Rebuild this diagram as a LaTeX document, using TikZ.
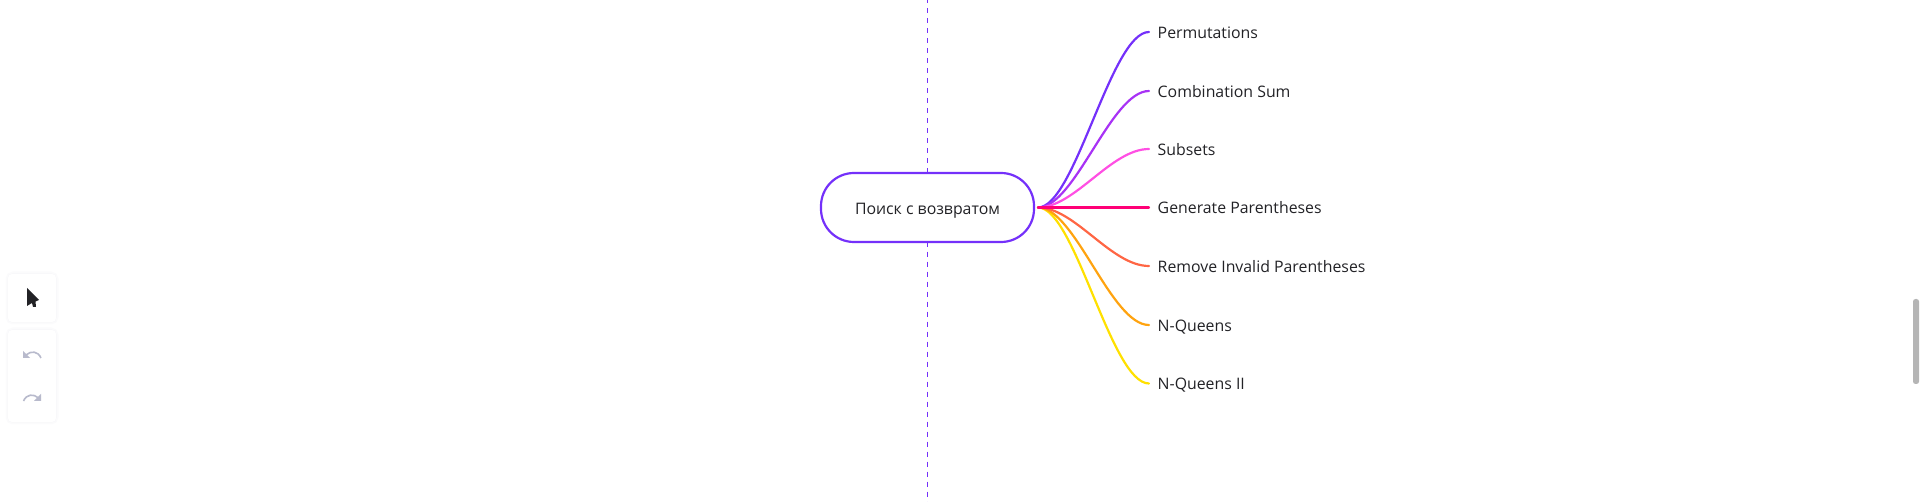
\documentclass[tikz,border=0pt]{standalone}
\usepackage{fontspec}
\setmainfont{Open Sans}
\usetikzlibrary{positioning}
\definecolor{rootline}{HTML}{7430FA}
\definecolor{branchA}{HTML}{7430FA}
\definecolor{branchB}{HTML}{A832F5}
\definecolor{branchC}{HTML}{FF4FE3}
\definecolor{branchD}{HTML}{FF0077}
\definecolor{branchE}{HTML}{FF6644}
\definecolor{branchF}{HTML}{FFA30F}
\definecolor{branchG}{HTML}{FFE000}
\definecolor{inktext}{HTML}{222226}
\definecolor{toolgrey}{HTML}{B8BACC}
\definecolor{shadowouter}{HTML}{FBFBFC}
\definecolor{shadowinner}{HTML}{F8F8FA}
\tikzstyle{rootbox}=[draw=rootline, fill=white, line width=2.2pt, rounded corners=33pt, minimum width=213pt, minimum height=69pt, inner sep=0pt, text height=14pt, text depth=0pt, text=inktext, font=\fontsize{15.85}{18}\selectfont]
\tikzstyle{leaf}=[anchor=base west, inner sep=0pt, text=inktext, font=\fontsize{15.85}{18}\selectfont]
\tikzstyle{branch}=[line width=2.2pt, line cap=round]
\tikzstyle{guide}=[draw=rootline, line width=1.1pt, dash pattern=on 5pt off 5pt, dash phase=1.5pt]
\tikzstyle{panel}=[fill=white, rounded corners=4pt]
\tikzstyle{panelouter}=[draw=shadowouter, line width=5pt, rounded corners=5pt]
\tikzstyle{panelinner}=[draw=shadowinner, line width=1.5pt, rounded corners=5pt]
\begin{document}
\begin{tikzpicture}[x=1pt, y=-1pt]
	\useasboundingbox (0,0) rectangle (1920,502);

	% Guide line behind the root
	\coordinate (T) at (927.5,0);
	\coordinate (U) at (927.5,502);
	\node[rootbox] (R) at (927.5,207.5) {Поиск с возвратом};
	\draw[guide] (T) -- (R.north -| T);
	\draw[guide] (R.south -| T) -- (U);

	% Start of all branches, just right of the root
	\coordinate (O) at (1038,207.5);

	% Branches with their labels
	\foreach \i/\y/\c/\t in {A/32/branchA/Permutations,
		B/91/branchB/Combination Sum,
		C/149/branchC/Subsets,
		G/383.5/branchG/N-Queens II,
		F/325/branchF/N-Queens,
		E/266/branchE/Remove Invalid Parentheses,
		D/207.5/branchD/Generate Parentheses} {
		\coordinate (E\i) at (1149,\y);
		\node[leaf] (L\i) at (1157.5,\y+6.5) {\t};
		\draw[branch, draw=\c] (O) .. controls (1075,207.5) and (1111,\y) .. (E\i);
	}

	% Tool panels on the left
	\draw[panelouter] (8,274) rectangle (56,322);
	\draw[panelouter] (8,330) rectangle (56,422);
	\draw[panelinner] (8,274) rectangle (56,322);
	\draw[panelinner] (8,330) rectangle (56,422);
	\fill[panel] (8,274) rectangle (56,322);
	\fill[panel] (8,330) rectangle (56,422);

	% Pointer
	\fill[inktext] (27,288) -- (39,300) -- (35.5,301.5) -- (36,307) -- (33,307) -- (32,303) -- (27,306) -- cycle;

	% Undo and redo
	\draw[toolgrey, line width=1.6pt] (41,358) .. controls (38,351) and (31,350.5) .. (26,355);
	\fill[toolgrey] (23,351) -- (23,358) -- (30,358) -- cycle;
	\draw[toolgrey, line width=1.6pt] (23.5,401) .. controls (26.5,394) and (33.5,393.5) .. (38.5,398);
	\fill[toolgrey] (41,394) -- (41,401) -- (34,401) -- cycle;

	% Scroll bar
	\fill[black!29, rounded corners=2.5pt] (1913,299) rectangle (1919,384);
\end{tikzpicture}
\end{document}
